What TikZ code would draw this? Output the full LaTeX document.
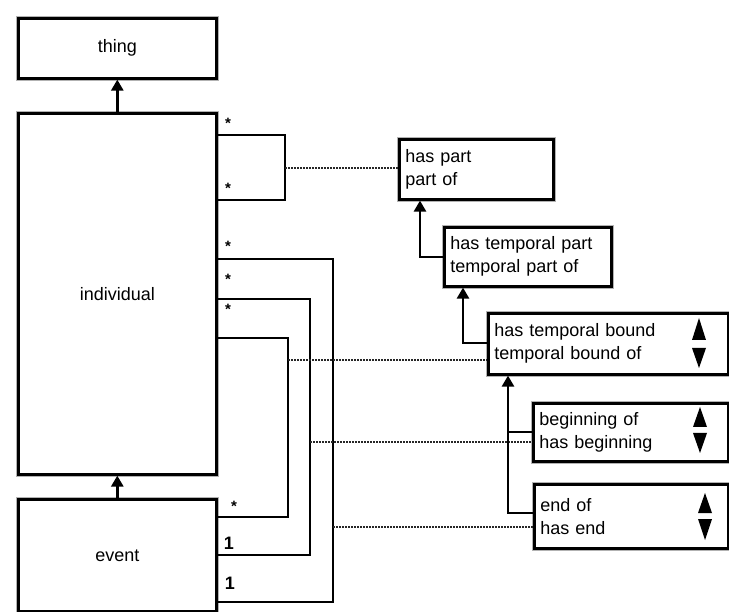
\documentclass[tikz,border=0pt]{standalone}
\usepackage{fontspec}
\setmainfont{Liberation Sans}
\usetikzlibrary{arrows.meta,calc}
\begin{document}
\begin{tikzpicture}[x=1pt,y=-1pt,
  box/.style={draw=black, line width=2.6pt, fill=white, rectangle, anchor=north west,
    preaction={draw=black!30, line width=5pt},
    font=\fontsize{18}{23}\selectfont, inner sep=0pt},
  cbox/.style={box, align=center},
  lbox/.style={box, align=left, inner xsep=6pt},
  link/.style={line width=2.4pt, black},
  gen/.style={line width=2.6pt, black, -{Triangle[width=12pt,length=11pt]}},
  dotline/.style={line width=2.2pt, black!85, dash pattern=on 2pt off 1pt},
  mult/.style={font=\fontsize{15}{15}\selectfont\bfseries, inner sep=0pt},
  one/.style={font=\fontsize{18}{18}\selectfont\bfseries, inner sep=0pt},
  tri/.style={fill=black}
]
\useasboundingbox (0,0) rectangle (729,612);
\fill[white] (0,0) rectangle (729,612);

% main class boxes
\node[cbox, minimum width=198pt, minimum height=60pt] (thing) at (17,17) {thing};
\node[cbox, minimum width=198pt, minimum height=361pt] (individual) at (17,112) {individual};
\node[cbox, minimum width=198pt, minimum height=112pt] (event) at (17,498) {event};

% relation boxes
\node[lbox, minimum width=154pt, text width=142pt, minimum height=60pt] (haspart) at (398,138) {has part\\part of};
\node[lbox, minimum width=167pt, text width=155pt, minimum height=59pt] (tpart) at (443,226) {has temporal part\\temporal part of};
\node[lbox, minimum width=240pt, text width=228pt, minimum height=61pt] (tbound) at (487,312) {has temporal bound\\temporal bound of};
\node[lbox, minimum width=195pt, text width=183pt, minimum height=58pt] (begin) at (532,402) {beginning of\\has beginning};
\node[lbox, minimum width=194pt, text width=182pt, minimum height=64pt] (end) at (533,483) {end of\\has end};

% up/down triangles
\fill[tri] (699,318) -- (706,340) -- (692,340) -- cycle;
\fill[tri] (692,348) -- (706,348) -- (699,368) -- cycle;
\fill[tri] (700,407) -- (707,427) -- (693,427) -- cycle;
\fill[tri] (693,433) -- (707,433) -- (700,453) -- cycle;
\fill[tri] (705,493) -- (712,513) -- (698,513) -- cycle;
\fill[tri] (698,519) -- (712,519) -- (705,540) -- cycle;

% inheritance among classes
\draw[gen] (individual.north) -- (thing.south);
\draw[gen] (event.north) -- (individual.south);

% coordinates
\coordinate (p1) at (285,168);
\coordinate (p2) at (288,360);
\coordinate (p3) at (310,442);
\coordinate (p4) at (333,527);

% part-whole loop
\draw[link] (individual.east |- 0,135) -- (285,135) -- (285,200) -- (individual.east |- 0,200);
\node[mult] (m1) at (228,123) {*};
\node[mult] (m2) at (228,188) {*};

% nested links individual -> event
\draw[link] (individual.east |- 0,259) -- (333,259) -- (333,602) -- (event.east |- 0,602);
\draw[link] (individual.east |- 0,299) -- (310,299) -- (310,555) -- (event.east |- 0,555);
\draw[link] (individual.east |- 0,338) -- (288,338) -- (288,517) -- (event.east |- 0,517);
\node[mult] (m3) at (228,246) {*};
\node[mult] (m4) at (228,279) {*};
\node[mult] (m5) at (228,309) {*};
\node[mult] (m6) at (234,506) {*};
\node[one] (m7) at (229,543) {1};
\node[one] (m8) at (230,583) {1};

% dotted association links
\draw[dotline] (p1) -- (p1 -| haspart.west);
\draw[dotline] (p2) -- (p2 -| tbound.west);
\draw[dotline] (p3) -- (p3 -| begin.west);
\draw[dotline] (p4) -- (p4 -| end.west);

% generalisation between relations
\coordinate (a1) at (420,257);
\draw[gen] (tpart.west |- a1) -- (a1) -- (a1 |- haspart.south);
\coordinate (a2) at (463,343);
\draw[gen] (tbound.west |- a2) -- (a2) -- (a2 |- tpart.south);
\coordinate (a3) at (508,432);
\draw[gen] (begin.west |- a3) -- (a3) -- (a3 |- tbound.south);
\coordinate (a4) at (508,513);
\draw[link, line width=2.6pt] (end.west |- a4) -- (a4) -- (a3);
\end{tikzpicture}
\end{document}
